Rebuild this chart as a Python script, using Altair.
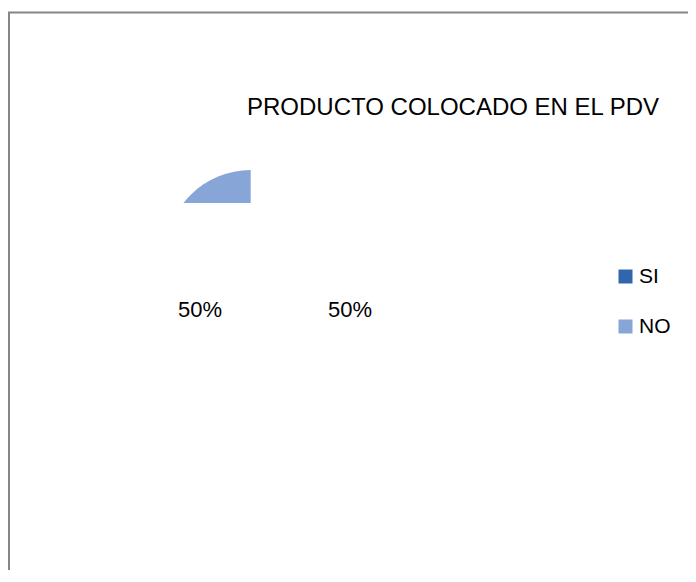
import altair as alt
import pandas as pd

# ---- data ----
categories = ["SI", "NO"]
values = [50, 50]
colors = ["#2F66AC", "#87A5D6"]
title_text = "PRODUCTO COLOCADO EN EL PDV"

total = sum(values)
df = pd.DataFrame({"cat": categories, "value": values})
df["label"] = [f"{round(v / total * 100)}%" for v in values]
df["idx"] = list(range(len(df)))

FONT = "Liberation Sans"
W, H = 680, 195          # plot area (bottom edge clips the pie)
TOTAL_H = 562

color_scale = alt.Scale(domain=categories, range=colors)

# pie (only the NO slice is rendered, clipped by the plot area like the source)
pie = (
    alt.Chart(df)
    .transform_window(cum="sum(value)", sort=[alt.SortField("idx")])
    .transform_calculate(start="datum.cum - datum.value")
    .transform_filter(alt.datum.cat == "NO")
    .mark_arc(radius=85, clip=True, strokeWidth=0)
    .encode(
        theta=alt.Theta("start:Q", scale=alt.Scale(domain=[0, total])),
        theta2="cum:Q",
        color=alt.Color(
            "cat:N",
            scale=color_scale,
            sort=categories,
            legend=alt.Legend(
                title=None,
                orient="none",
                legendX=607,
                legendY=258,
                direction="vertical",
                symbolType="square",
                symbolSize=196,
                symbolStrokeWidth=0,
                symbolOpacity=1,
                labelFont=FONT,
                labelFontSize=21,
                labelColor="#000000",
                labelOffset=3,
                rowPadding=28,
                padding=0,
            ),
        ),
        x=alt.value(242.7),
        y=alt.value(247),
    )
)

labels = (
    alt.Chart(df)
    .mark_text(font=FONT, fontSize=22, align="center", baseline="alphabetic", color="#000000")
    .encode(
        x=alt.X("cat:N", scale=alt.Scale(domain=["NO", "SI"], range=[192, 342], padding=0), axis=None),
        y=alt.value(309),
        text="label:N",
    )
)

one = pd.DataFrame({"a": [0]})
title = (
    alt.Chart(one)
    .mark_text(font=FONT, fontSize=24, align="left", baseline="alphabetic", color="#000000")
    .encode(x=alt.value(239), y=alt.value(107), text=alt.value(title_text))
)

border_top = alt.Chart(one).mark_rule(color="#868686", strokeWidth=2).encode(
    x=alt.value(0), x2=alt.value(W), y=alt.value(4.5)
)
border_left = alt.Chart(one).mark_rule(color="#868686", strokeWidth=2).encode(
    x=alt.value(1), y=alt.value(4.5), y2=alt.value(TOTAL_H)
)

chart = (
    alt.layer(border_top, border_left, pie, labels, title)
    .properties(
        width=W,
        height=H,
        autosize=alt.AutoSizeParams(type="none"),
        padding={"left": 0, "top": 0, "right": 0, "bottom": TOTAL_H - H},
        background="white",
    )
    .configure_view(stroke=None)
)

chart.save("out.html", embed_options={"renderer": "svg", "actions": False})
